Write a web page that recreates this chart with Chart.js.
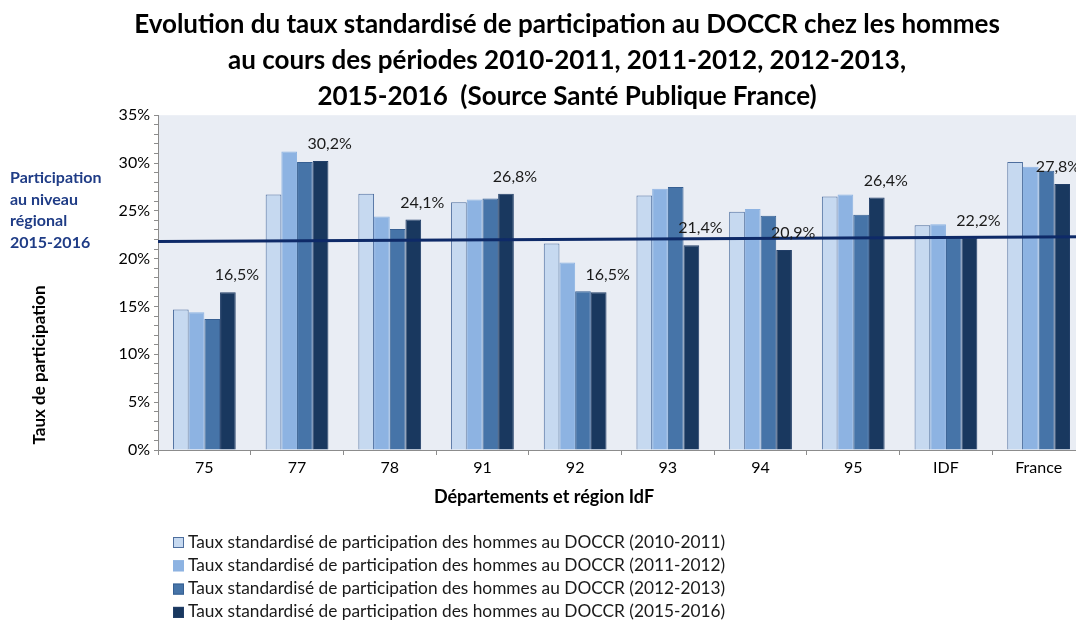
<!DOCTYPE html>
<html lang="fr">
<head>
<meta charset="utf-8">
<title>DOCCR hommes</title>
<script src="https://cdn.jsdelivr.net/npm/chart.js@4.4.1/dist/chart.umd.min.js"></script>
<style>
    html, body {
        margin: 0;
        padding: 0;
        background: #ffffff;
        overflow: hidden;
    }
    #wrap {
        position: relative;
        width: 1085px;
        height: 621px;
    }
</style>
</head>
<body>
<div id="wrap">
    <canvas id="doccrChart"></canvas>
</div>
<script>

// ======================================
// Data
// ======================================

const categories = ["75", "77", "78", "91", "92", "93", "94", "95", "IDF", "France"];

const taux2010 = [14.7, 26.7, 26.8, 25.9, 21.6, 26.6, 24.9, 26.5, 23.5, 30.1];
const taux2011 = [14.4, 31.2, 24.4, 26.2, 19.6, 27.3, 25.2, 26.7, 23.6, 29.6];
const taux2012 = [13.7, 30.1, 23.1, 26.3, 16.6, 27.5, 24.5, 24.6, 22.3, 29.2];
const taux2015 = [16.5, 30.2, 24.1, 26.8, 16.5, 21.4, 20.9, 26.4, 22.2, 27.8];

// regional level line, value at the left edge and at the right edge
const regionalLine = [21.8, 22.3];

const seriesLabels = [
    "Taux standardisé de participation des hommes au DOCCR (2010-2011)",
    "Taux standardisé de participation des hommes au DOCCR (2011-2012)",
    "Taux standardisé de participation des hommes au DOCCR (2012-2013)",
    "Taux standardisé de participation des hommes au DOCCR (2015-2016)"
];

const titleLines = [
    "Evolution du taux standardisé de participation au DOCCR chez les hommes",
    "au cours des périodes 2010-2011, 2011-2012, 2012-2013,",
    "2015-2016  (Source Santé Publique France)"
];

const regionalNote = ["Participation", "au niveau", "régional", "2015-2016"];

// ======================================
// Colors
// ======================================

const fontFamily = "Lato, 'Open Sans', sans-serif";
const axisColor = "#8c8c8c";
const plotBg = "#e9edf4";
const navy = "#0e2a68";
const noteColor = "#1f3c86";

const fills = ["#c6d9f0", "#8db3e2", "#4674a8", "#19385f"];
const borders = ["#4d6e9e", "#8db3e2", "#365f92", "#223f68"];

// ======================================
// Plugins
// ======================================

const plotBackground = {
    id: "plotBackground",
    beforeDraw(chart) {
        const { ctx, chartArea } = chart;
        ctx.save();
        ctx.fillStyle = plotBg;
        ctx.fillRect(chartArea.left, chartArea.top, chartArea.right - chartArea.left, chartArea.bottom - chartArea.top);
        ctx.restore();
    }
};

const lastValueLabels = {
    id: "lastValueLabels",
    afterDatasetsDraw(chart) {
        const { ctx, chartArea } = chart;
        const meta = chart.getDatasetMeta(3);
        ctx.save();
        ctx.font = "16px " + fontFamily;
        ctx.fillStyle = "#1a1a1a";
        ctx.textAlign = "center";
        ctx.textBaseline = "middle";
        meta.data.forEach((bar, i) => {
            const text = taux2015[i].toFixed(1).replace(".", ",") + "%";
            // keep the last label inside the visible part of the plot
            const x = Math.min(bar.x + 9, chartArea.right - 27);
            ctx.fillText(text, x, bar.y - 17);
        });
        ctx.restore();
    }
};

const extraTexts = {
    id: "extraTexts",
    afterDraw(chart) {
        const { ctx } = chart;
        ctx.save();

        // y axis title
        ctx.save();
        ctx.translate(40, 365);
        ctx.rotate(-Math.PI / 2);
        ctx.font = "bold 17px " + fontFamily;
        ctx.fillStyle = "#000000";
        ctx.textAlign = "center";
        ctx.textBaseline = "middle";
        ctx.fillText("Taux de participation", 0, 0);
        ctx.restore();

        // regional note
        ctx.font = "bold 16px " + fontFamily;
        ctx.fillStyle = noteColor;
        ctx.textAlign = "left";
        ctx.textBaseline = "middle";
        regionalNote.forEach((line, i) => {
            ctx.fillText(line, 10, 178 + i * 21.5);
        });

        // x axis title
        ctx.font = "bold 18px " + fontFamily;
        ctx.fillStyle = "#000000";
        ctx.textAlign = "center";
        ctx.fillText("Départements et région IdF", 544, 497);

        // legend
        ctx.font = "17.3px " + fontFamily;
        ctx.textAlign = "left";
        seriesLabels.forEach((label, i) => {
            const y = 542 + i * 23.3;
            ctx.fillStyle = fills[i];
            ctx.fillRect(173, y - 5, 11, 11);
            ctx.strokeStyle = borders[i];
            ctx.lineWidth = 1;
            ctx.strokeRect(173.5, y - 4.5, 10, 10);
            ctx.fillStyle = "#1a1a1a";
            ctx.fillText(label, 188, y);
        });

        ctx.restore();
    }
};

// ======================================
// Datasets
// ======================================

const barSeries = [taux2010, taux2011, taux2012, taux2015];

const datasets = barSeries.map((values, i) => ({
    type: "bar",
    label: seriesLabels[i],
    data: values,
    backgroundColor: fills[i],
    borderColor: borders[i],
    borderWidth: 1,
    categoryPercentage: 0.677,
    barPercentage: 1.0,
    order: 1
}));

// line across the whole plot: from the left edge (-0.5) to the right edge of the category axis
datasets.push({
    type: "line",
    label: "Participation au niveau régional 2015-2016",
    parsing: false,
    data: [
        { x: -0.5, y: regionalLine[0] },
        { x: categories.length - 0.5, y: regionalLine[1] }
    ],
    borderColor: navy,
    borderWidth: 3,
    pointRadius: 0,
    fill: false,
    order: 0
});

// ======================================
// Chart
// ======================================

new Chart(document.getElementById("doccrChart"), {
    type: "bar",
    data: {
        labels: categories,
        datasets: datasets
    },
    plugins: [plotBackground, lastValueLabels, extraTexts],
    options: {
        responsive: true,
        maintainAspectRatio: false,
        animation: false,
        layout: {
            padding: { left: 49, right: 0, top: 0, bottom: 0 }
        },
        plugins: {
            legend: { display: false },
            tooltip: { enabled: false },
            title: {
                display: true,
                text: titleLines,
                color: "#000000",
                font: { family: fontFamily, size: 26, weight: "bold", lineHeight: 1.4 },
                padding: { top: 6, bottom: 0 }
            }
        },
        scales: {
            x: {
                grid: {
                    display: true,
                    offset: true,
                    drawOnChartArea: false,
                    drawTicks: true,
                    tickLength: 5,
                    color: axisColor
                },
                border: { display: true, color: axisColor },
                ticks: {
                    color: "#000000",
                    font: { family: fontFamily, size: 16 },
                    padding: 3
                },
                afterFit(scale) {
                    scale.height = 171;
                }
            },
            y: {
                min: 0,
                max: 35,
                grid: {
                    display: true,
                    drawOnChartArea: false,
                    drawTicks: true,
                    tickLength: 4,
                    color: axisColor
                },
                border: { display: true, color: axisColor },
                ticks: {
                    stepSize: 1,
                    autoSkip: false,
                    color: "#000000",
                    font: { family: fontFamily, size: 16 },
                    padding: 4,
                    callback: (v) => (v % 5 === 0 ? v + "%" : "")
                },
                afterFit(scale) {
                    scale.width = 109;
                }
            }
        }
    }
});

</script>
</body>
</html>
